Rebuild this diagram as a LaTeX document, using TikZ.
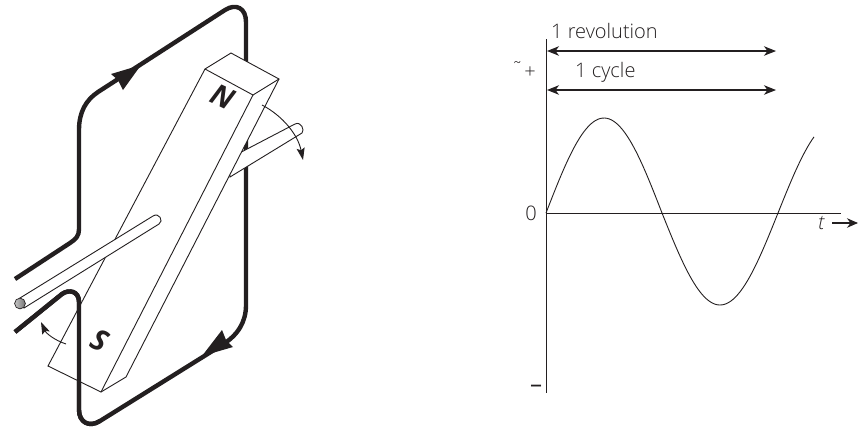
\documentclass[tikz,border=0pt]{standalone}
\usepackage{fontspec}
\setmainfont{Open Sans Light}
\newfontfamily\polefont{Open Sans}
\usetikzlibrary{arrows.meta}
\definecolor{ink}{HTML}{231F20}
\tikzset{
  thin line/.style={draw=ink,line width=0.9pt,line join=miter},
  coil/.style={draw=ink,line width=4.4pt},
  dimarrow/.style={draw=ink,line width=1.1pt,{Stealth[length=12pt,width=9.5pt,inset=3.5pt]}-{Stealth[length=12pt,width=9.5pt,inset=3.5pt]}},
  turnarrow/.style={draw=ink,line width=0.9pt,-{Stealth[length=12pt,width=8pt,inset=2pt]}},
  lbl/.style={text=ink,font=\fontsize{20}{24}\selectfont,inner sep=0pt},
  pole/.style={text=ink,font=\polefont\bfseries\itshape\fontsize{29}{32}\selectfont,inner sep=0pt}
}
\begin{document}
\begin{tikzpicture}[x=1pt,y=-1pt]
\useasboundingbox (0,0) rectangle (858,429);
% coil, back part
\draw[coil] (15,279) -- (70,243) .. controls (76,239) and (79,236) .. (79,229)
  -- (79,130) .. controls (79,112) and (86,100) .. (98,92)
  -- (225,10) .. controls (236,3) and (246,8) .. (246,22)
  -- (246,305) .. controls (246,322) and (238,335) .. (222,345)
  -- (100,421) .. controls (89,428) and (79,422) .. (79,410)
  -- (79,302) .. controls (79,291) and (69,289) .. (62,294) -- (15,332);
\fill[ink] (141,65) -- (111,74) -- (118,80) -- (123,90) -- cycle;
\fill[ink] (202,356) -- (222,330) -- (226,340) -- (233,347) -- cycle;
% axle behind magnet
\filldraw[thin line,fill=white] (228,159) -- (295,124) .. controls (301,121) and (305,130) .. (302,133) -- (230,177) -- cycle;
% magnet
\filldraw[thin line,fill=white] (205,69) -- (231,53) -- (279,79) -- (126,377) -- (101,392) -- (48,366) -- cycle;
\draw[thin line] (205,69) -- (253,95) -- (279,79);
\draw[thin line] (253,95) -- (101,392);
% coil, front part
\draw[coil] (100,421) .. controls (89,428) and (79,422) .. (79,410)
  -- (79,302) .. controls (79,291) and (69,289) .. (62,294) -- (15,332);
% axle in front
\filldraw[thin line,fill=white] (20,298) -- (153,216) .. controls (159,212) and (164,221) .. (159,224) -- (24,308) -- cycle;
\shade[left color=gray!45,right color=gray!90!black,draw=ink,line width=0.7pt] (20,303.5) circle (5.4);
% poles
\node[pole,rotate=-25] (north) at (223,97) {N};
\node[pole,rotate=-25] (south) at (100,340) {S};
% turning arrows
\draw[turnarrow] (262,105) .. controls (283,116) and (298,135) .. (303,160);
\draw[turnarrow] (66,344) .. controls (54,340) and (46,333) .. (41,322);
% graph axes
\coordinate (origin) at (546,213);
\draw[draw=ink,line width=1pt] (546,39) -- (546,393);
\draw[draw=ink,line width=1pt] (origin) -- (841,213);
\draw[draw=ink,line width=0.9pt] plot[domain=546:814,samples=120,smooth] (\x,{213-(\x<662?95:92)*sin(deg(pi*(\x-546)/116))});
% dimension arrows
\draw[dimarrow] (547,51) -- (776,51);
\draw[dimarrow] (547,90) -- (776,90);
\draw[draw=ink,line width=1.1pt,-{Stealth[length=11pt,width=9.5pt,inset=3.5pt]}] (832,223) -- (858,223);
% labels
\node[lbl,anchor=west] (rev) at (551,31) {1 revolution};
\node[lbl,anchor=west] (cyc) at (575,72) {1 cycle};
\node[lbl,font=\fontsize{18}{20}\selectfont] (tilde) at (517,68) {\char"02DC};
\node[lbl] (plus) at (530,73) {+};
\node[lbl] (zero) at (531,213) {0};
\node[lbl,font=\itshape\fontsize{20}{24}\selectfont] (tee) at (821,223) {t};
\node[lbl,font=\polefont\fontsize{24}{26}\selectfont] (minus) at (536,389) {–};
\end{tikzpicture}
\end{document}
